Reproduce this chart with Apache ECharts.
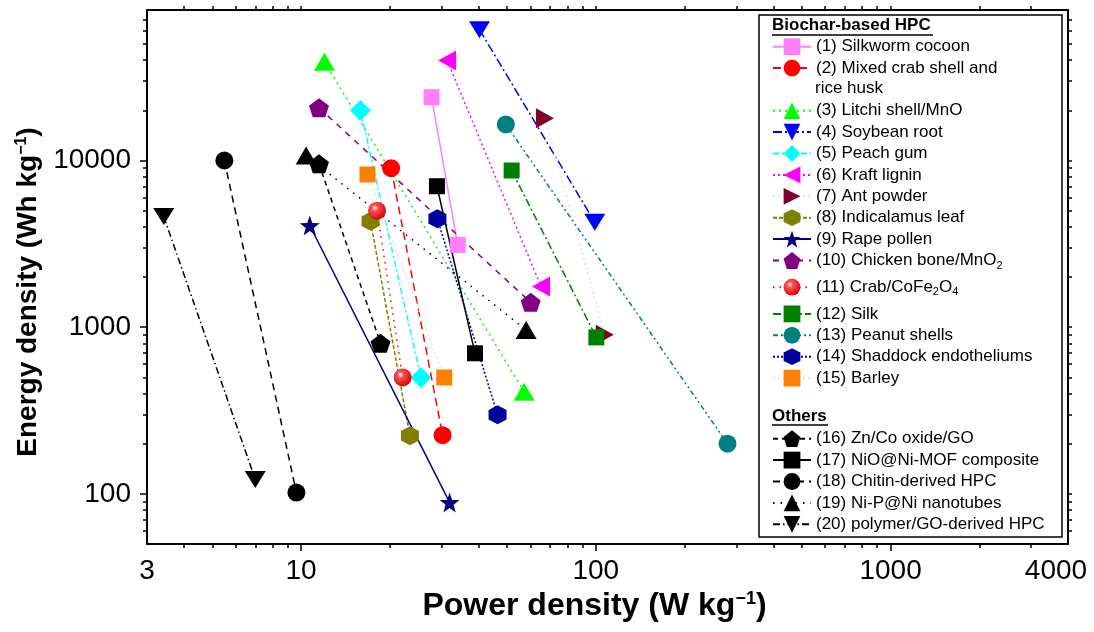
<!DOCTYPE html>
<html>
<head>
<meta charset="utf-8">
<script src="https://cdn.jsdelivr.net/npm/echarts@6/dist/echarts.min.js"></script>
<style>
  html, body { margin: 0; padding: 0; background: #fff; }
  #chart { width: 1094px; height: 632px; }
</style>
</head>
<body>
<div id="chart"></div>
<script>
// series names (legend order)
const names = [
  "(1) Silkworm cocoon", "(2) Mixed crab shell and", "(3) Litchi shell/MnO", "(4) Soybean root",
  "(5) Peach gum", "(6) Kraft lignin", "(7) Ant powder", "(8) Indicalamus leaf", "(9) Rape pollen",
  "(10) Chicken bone/MnO2", "(11) Crab/CoFe2O4", "(12) Silk", "(13) Peanut shells",
  "(14) Shaddock endotheliums", "(15) Barley", "(16) Zn/Co oxide/GO", "(17) NiO@Ni-MOF composite",
  "(18) Chitin-derived HPC", "(19) Ni-P@Ni nanotubes", "(20) polymer/GO-derived HPC"
];
// power density (W kg-1), start / end point
const power = [
  [27.7, 34.0], [20.2, 30.2], [12.0, 57.1], [40.3, 99.2], [15.9, 25.5],
  [31.3, 65.2], [67.2, 107.2], [17.2, 23.4], [10.7, 31.9], [11.5, 60.1],
  [18.1, 22.1], [51.8, 100.4], [49.5, 279.7], [29.0, 46.4], [16.8, 30.6],
  [11.5, 18.6], [28.9, 38.9], [5.49, 9.64], [10.4, 58.0], [3.42, 6.99]
];
// energy density (Wh kg-1), start / end point
const energy = [
  [23990, 3116], [8990, 225], [39100, 410], [60960, 4256], [19950, 499],
  [39850, 1751], [17950, 902], [4316, 223], [4074, 88.8], [20730, 1409],
  [5000, 499], [8708, 868], [16450, 200], [4467, 298], [8240, 499],
  [9554, 800], [7010, 697], [10000, 101.8], [10720, 962], [4610, 122]
];
const xLabels = [3, 10, 100, 1000, 4000];
const yLabels = [100, 1000, 10000];
const xMajor = [10, 100, 1000];
const yMajor = [100, 1000, 10000];

// minor ticks at 2..9 of each decade inside the axis range
function minorTicks(lo, hi) {
  const out = [];
  for (let d = 1; d <= 100000; d *= 10) {
    for (let k = 2; k <= 9; k++) {
      const v = k * d;
      if (v > lo && v < hi) out.push(v);
    }
  }
  return out;
}
const xMinor = minorTicks(3, 4000);
const yMinor = minorTicks(50, 80000);

const colors = [
  "#FF80FF", "#FF0000", "#00FF00", "#0000FF", "#00FFFF", "#FF00FF", "#80002A", "#808000",
  "#000080", "#800080", "#FF0000", "#008000", "#008080", "#0000A0", "#FF8000",
  "#000000", "#000000", "#000000", "#000000", "#000000"
];
const lineColors = colors.slice();
lineColors[6] = "#E2E2E2";
lineColors[14] = "#F3E4D2";

const downTri = "path://M0,0L10,0L5,8.7Z";
const leftTri = "path://M8.7,0L8.7,10L0,5Z";
const rightTri = "path://M0,0L0,10L8.7,5Z";
const pentagon = "path://M5,0L10,3.8L8.1,9.5L1.9,9.5L0,3.8Z";
const hexagon = "path://M5,0L9.33,2.5L9.33,7.5L5,10L0.67,7.5L0.67,2.5Z";
const star = "path://M5,0L6.18,3.4L9.76,3.45L6.9,5.6L7.94,9.05L5,7L2.06,9.05L3.1,5.6L0.24,3.45L3.82,3.4Z";

const symbols = [
  "rect", "circle", "triangle", downTri, "diamond", leftTri, rightTri, hexagon, star, pentagon,
  "circle", "rect", "circle", hexagon, "rect", pentagon, "rect", "circle", "triangle", downTri
];
const sizes = [16, 18, [21, 18], [21, 17], 21, [18, 20], [18, 20], [18, 19], 20, [20, 19],
  18, 16, 18, [18, 19], 16, [20, 19], 16, 18, [21, 18], [21, 17]];
const dashes = [
  "solid", [8, 5], [2, 4], [9, 3, 2, 3], [6, 3, 2, 3], [2, 3], [2, 3], [4, 2], "solid", [6, 6],
  [1.5, 5], [8, 3, 2, 3], [5, 3, 2, 3, 2, 3], [2, 2], [2, 3], [5, 4], "solid", [7, 5], [1.5, 6], [7, 3, 1.5, 3]
];

const sphere = {
  type: "radial", x: 0.38, y: 0.35, r: 0.7,
  colorStops: [
    { offset: 0, color: "#FFFFFF" },
    { offset: 0.25, color: "#FF5050" },
    { offset: 1, color: "#D00000" }
  ]
};

const series = names.map((name, i) => ({
  name: name,
  type: "line",
  symbol: symbols[i],
  symbolSize: sizes[i],
  data: [[power[i][0], energy[i][0]], [power[i][1], energy[i][1]]],
  itemStyle: { color: i === 10 ? sphere : colors[i] },
  lineStyle: { color: lineColors[i], width: 1.5, type: dashes[i] },
  z: 3
}));

const font = "Liberation Sans, Arial, sans-serif";

const legendText = {
  fontFamily: font, fontSize: 17, color: "#000", lineHeight: 21.4,
  rich: {
    s: { fontFamily: font, fontSize: 11, lineHeight: 11, padding: [10, 0, 0, 0], verticalAlign: "middle", color: "#000" },
    t: { fontFamily: font, fontSize: 17, lineHeight: 32, color: "#000" }
  }
};
function legendFmt(name) {
  if (name === names[9]) return "(10) Chicken bone/MnO{s|2}";
  if (name === names[10]) return "{t|(11) Crab/CoFe}{s|2}{t|O}{s|4}";
  return name;
}
const legendBase = {
  orient: "vertical", left: 772, padding: 0, itemGap: 0, itemWidth: 38, itemHeight: 21,
  selectedMode: false, textStyle: legendText, formatter: legendFmt
};

const lineBlack = { color: "#000", width: 2 };
const tickStyle = { color: "#000", width: 1.5 };

const myEcharts = echarts.init(document.getElementById("chart"));
const option = {
  animation: false,
  grid: { left: 147, right: 26, top: 10, bottom: 88 },
  xAxis: [
    {
      type: "log", logBase: 10, min: 3, max: 4000, position: "bottom",
      name: "Power density (W kg{sup|−1})", nameLocation: "middle", nameGap: 45,
      nameTextStyle: {
        fontFamily: font, fontSize: 32, fontWeight: "bold", color: "#000", padding: [0, 26, 0, 0],
        rich: { sup: { fontFamily: font, fontSize: 18, fontWeight: "bold", color: "#000", padding: [0, 0, 15, 0] } }
      },
      axisLine: { lineStyle: lineBlack },
      axisTick: { customValues: xMajor, length: 7, lineStyle: tickStyle },
      splitLine: { show: false },
      axisLabel: {
        customValues: xLabels,
        fontFamily: font, fontSize: 28, color: "#000", margin: 13,
        formatter: v => (Math.abs(v - 4000) < 1e-6 ? "{r|4000}" : String(Math.round(v))),
        rich: { r: { fontFamily: font, fontSize: 28, color: "#000", padding: [0, 24, 0, 0] } }
      }
    },
    {
      type: "log", logBase: 10, min: 3, max: 4000, position: "top",
      axisLine: { lineStyle: lineBlack },
      axisTick: { customValues: xMajor.concat(xMinor), length: 4, lineStyle: tickStyle },
      axisLabel: { show: false }, splitLine: { show: false }
    },
    {
      type: "log", logBase: 10, min: 3, max: 4000, position: "bottom", offset: 0,
      axisLine: { show: false },
      axisTick: { customValues: xMinor, length: 4, lineStyle: tickStyle },
      axisLabel: { show: false }, splitLine: { show: false }
    }
  ],
  yAxis: [
    {
      type: "log", logBase: 10, min: 50, max: 80000, position: "left",
      name: "Energy density (Wh kg{sup|−1})", nameLocation: "middle", nameGap: 86,
      nameTextStyle: {
        fontFamily: font, fontSize: 28, fontWeight: "bold", color: "#000", padding: [0, 30, 0, 0],
        rich: { sup: { fontFamily: font, fontSize: 16, fontWeight: "bold", color: "#000", padding: [0, 0, 13, 0] } }
      },
      axisLine: { lineStyle: lineBlack },
      axisTick: { customValues: yMajor, length: 7, lineStyle: tickStyle },
      splitLine: { show: false },
      axisLabel: {
        customValues: yLabels,
        fontFamily: font, fontSize: 28, color: "#000", margin: 16,
        formatter: v => String(Math.round(v))
      }
    },
    {
      type: "log", logBase: 10, min: 50, max: 80000, position: "right",
      axisLine: { lineStyle: lineBlack },
      axisTick: { customValues: yMajor.concat(yMinor), length: 4, lineStyle: tickStyle },
      axisLabel: { show: false }, splitLine: { show: false }
    },
    {
      type: "log", logBase: 10, min: 50, max: 80000, position: "left", offset: 0,
      axisLine: { show: false },
      axisTick: { customValues: yMinor, length: 4, lineStyle: tickStyle },
      axisLabel: { show: false }, splitLine: { show: false }
    }
  ],
  legend: [
    Object.assign({ top: 36, data: names.slice(0, 2) }, legendBase),
    Object.assign({ top: 100, data: names.slice(2, 15) }, legendBase),
    Object.assign({ top: 428, data: names.slice(15, 20) }, legendBase)
  ],
  graphic: [
    { type: "rect", z: 1, shape: { x: 759, y: 15, width: 303, height: 522 },
      style: { fill: "#fff", stroke: "#000", lineWidth: 1.5 } },
    { type: "text", z: 10, left: 772, top: 17,
      style: { text: "Biochar-based HPC", font: "bold 17px " + font, fill: "#000" } },
    { type: "line", z: 10, shape: { x1: 772, y1: 35, x2: 933, y2: 35 }, style: { stroke: "#000", lineWidth: 1.5 } },
    { type: "text", z: 10, left: 815, top: 80,
      style: { text: "rice husk", font: "17px " + font, fill: "#000" } },
    { type: "text", z: 10, left: 772, top: 408,
      style: { text: "Others", font: "bold 17px " + font, fill: "#000" } },
    { type: "line", z: 10, shape: { x1: 772, y1: 425, x2: 828, y2: 425 }, style: { stroke: "#000", lineWidth: 1.5 } }
  ],
  series: series
};
myEcharts.setOption(option);
</script>
</body>
</html>
